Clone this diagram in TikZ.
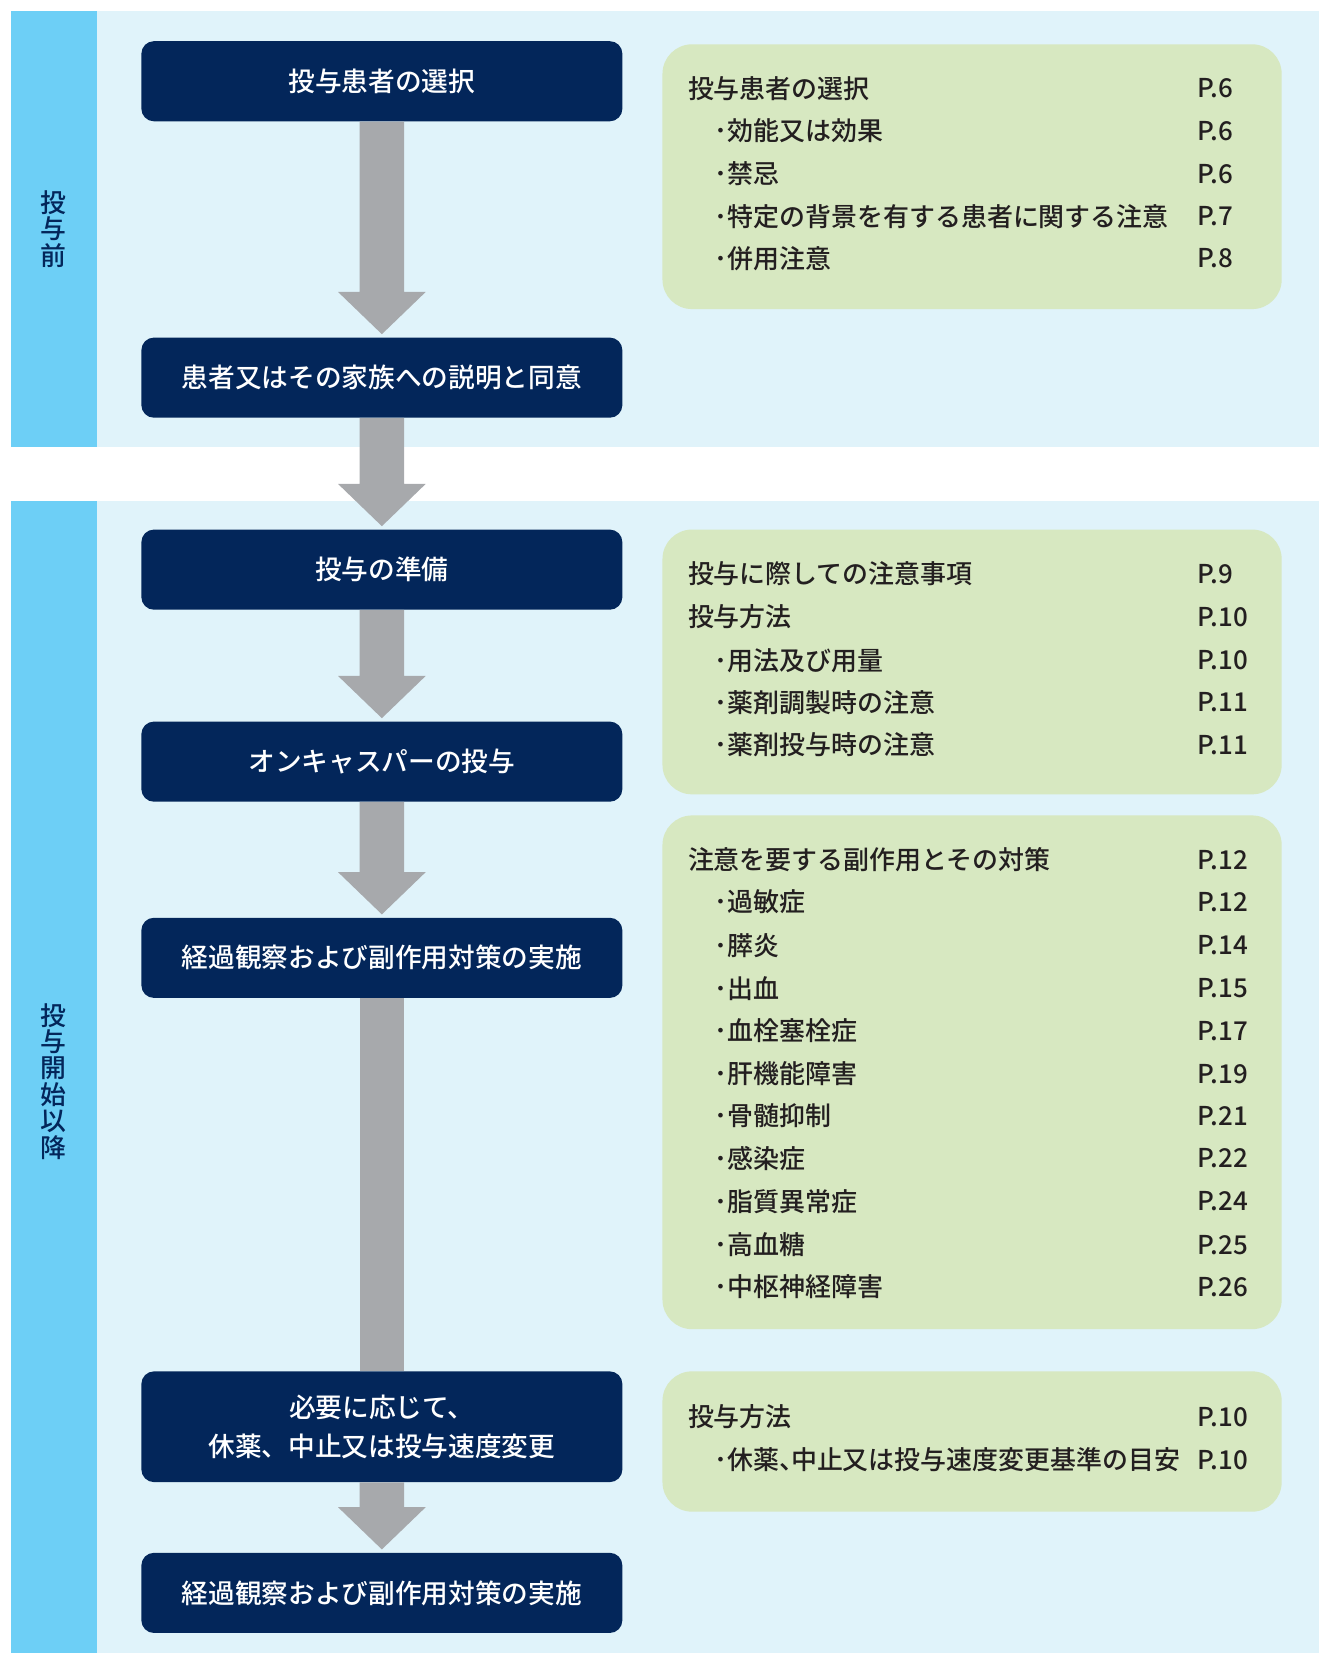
\documentclass[tikz,border=0pt]{standalone}
\usepackage{fontspec}
\IfFontExistsTF{Noto Sans CJK JP Medium}
  {\setmainfont{Noto Sans CJK JP Medium}}
  {\setmainfont{Noto Sans CJK JP}}
\usetikzlibrary{calc}
\definecolor{bandblue}{HTML}{E0F3FA}
\definecolor{stripeblue}{HTML}{6DCFF6}
\definecolor{navy}{HTML}{03265A}
\definecolor{arrowgray}{HTML}{A7A9AC}
\definecolor{panelgreen}{HTML}{D7E8C1}
\definecolor{textdark}{HTML}{231F20}
\newcommand\flowarrow[2]{%
  \fill[arrowgray] ($(#1.south)+(-21,0)$) -- ($(#2.north)+(-21,-43)$) -- ($(#2.north)+(-41.5,-43)$)
    -- ($(#2.north)+(0,-3)$) -- ($(#2.north)+(41.5,-43)$) -- ($(#2.north)+(21,-43)$)
    -- ($(#1.south)+(21,0)$) -- cycle;}
\newcommand\bul{\makebox[12.5pt][c]{･}}
\newcommand\hcomma{\makebox[11pt][l]{、}}
\begin{document}
\begin{tikzpicture}[x=1pt,y=-1pt,
  darkbox/.style={fill=navy, rounded corners=12pt, minimum width=456pt, minimum height=76pt,
    text=white, font=\fontsize{25.3}{37}\selectfont, inner sep=0pt, align=center},
  panel/.style={fill=panelgreen, rounded corners=28pt, minimum width=587pt, inner sep=0pt},
  item/.style={anchor=west, inner sep=0pt, text=textdark, font=\fontsize{24.6}{30}\selectfont},
  stripelabel/.style={text=navy, inner sep=0pt, align=center, font=\fontsize{24.5}{25}\selectfont}]
\useasboundingbox (0,0) rectangle (1250,1567);
% bands
\fill[bandblue] (10,10) rectangle (1260,424);
\fill[stripeblue] (10,10) rectangle (92,424);
\fill[bandblue] (10,475) rectangle (1260,1580);
\fill[stripeblue] (10,475) rectangle (92,1580);
\node[stripelabel] (s1) at (51,217) {投\\与\\前};
\node[stripelabel] (s2) at (51,1025) {投\\与\\開\\始\\以\\降};
% flow boxes
\node[darkbox] (b1) at (362,77) {投与患者の選択};
\node[darkbox] (b2) at (362,358) {患者又はその家族への説明と同意};
\node[darkbox] (b3) at (362,540) {投与の準備};
\node[darkbox] (b4) at (362,722) {オンキャスパーの投与};
\node[darkbox] (b5) at (362,908) {経過観察および副作用対策の実施};
\node[darkbox, minimum height=105pt] (b6) at (362,1352.5) {必要に応じて、\\休薬、中止又は投与速度変更};
\node[darkbox] (b7) at (362,1510) {経過観察および副作用対策の実施};
% arrows
\flowarrow{b1}{b2}
\flowarrow{b2}{b3}
\flowarrow{b3}{b4}
\flowarrow{b4}{b5}
\fill[arrowgray] ($(b5.south)+(-21,0)$) rectangle ($(b6.north)+(21,0)$);
\flowarrow{b6}{b7}
% panels
\node[panel, minimum height=251pt] (g1) at (921.5,167.5) {};
\node[panel, minimum height=251pt] (g2) at (921.5,627.5) {};
\node[panel, minimum height=487pt] (g3) at (921.5,1016.5) {};
\node[panel, minimum height=133pt] (g4) at (921.5,1366.5) {};
% panel 1
\node[item] (g1a) at (652,84) {投与患者の選択};
\node[item] (g1b) at (677,124) {\bul 効能又は効果};
\node[item] (g1c) at (677,165) {\bul 禁忌};
\node[item] (g1d) at (677,205) {\bul 特定の背景を有する患者に関する注意};
\node[item] (g1e) at (677,245) {\bul 併用注意};
\node[item] (p1a) at (1135,84) {P.6};
\node[item] (p1b) at (1135,124) {P.6};
\node[item] (p1c) at (1135,165) {P.6};
\node[item] (p1d) at (1135,205) {P.7};
\node[item] (p1e) at (1135,245) {P.8};
% panel 2
\node[item] (g2a) at (652,544) {投与に際しての注意事項};
\node[item] (g2b) at (652,585) {投与方法};
\node[item] (g2c) at (677,626) {\bul 用法及び用量};
\node[item] (g2d) at (677,666) {\bul 薬剤調製時の注意};
\node[item] (g2e) at (677,706) {\bul 薬剤投与時の注意};
\node[item] (p2a) at (1135,544) {P.9};
\node[item] (p2b) at (1135,585) {P.10};
\node[item] (p2c) at (1135,626) {P.10};
\node[item] (p2d) at (1135,666) {P.11};
\node[item] (p2e) at (1135,706) {P.11};
% panel 3
\node[item] (g3a) at (652,815) {注意を要する副作用とその対策};
\node[item] (g3b) at (677,855) {\bul 過敏症};
\node[item] (g3c) at (677,896) {\bul 膵炎};
\node[item] (g3d) at (677,937) {\bul 出血};
\node[item] (g3e) at (677,977) {\bul 血栓塞栓症};
\node[item] (g3f) at (677,1018) {\bul 肝機能障害};
\node[item] (g3g) at (677,1058) {\bul 骨髄抑制};
\node[item] (g3h) at (677,1098) {\bul 感染症};
\node[item] (g3i) at (677,1139) {\bul 脂質異常症};
\node[item] (g3j) at (677,1180) {\bul 高血糖};
\node[item] (g3k) at (677,1220) {\bul 中枢神経障害};
\node[item] (p3a) at (1135,815) {P.12};
\node[item] (p3b) at (1135,855) {P.12};
\node[item] (p3c) at (1135,896) {P.14};
\node[item] (p3d) at (1135,937) {P.15};
\node[item] (p3e) at (1135,977) {P.17};
\node[item] (p3f) at (1135,1018) {P.19};
\node[item] (p3g) at (1135,1058) {P.21};
\node[item] (p3h) at (1135,1098) {P.22};
\node[item] (p3i) at (1135,1139) {P.24};
\node[item] (p3j) at (1135,1180) {P.25};
\node[item] (p3k) at (1135,1220) {P.26};
% panel 4
\node[item] (g4a) at (652,1343) {投与方法};
\node[item] (g4b) at (677,1384) {\bul 休薬\hcomma 中止又は投与速度変更基準の目安};
\node[item] (p4a) at (1135,1343) {P.10};
\node[item] (p4b) at (1135,1384) {P.10};
\end{tikzpicture}
\end{document}
